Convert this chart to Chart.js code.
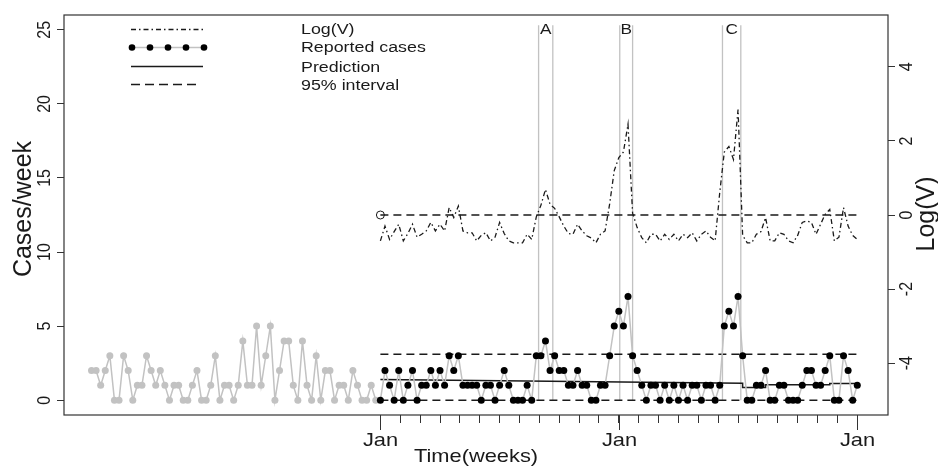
<!DOCTYPE html>
<html>
<head>
<meta charset="utf-8">
<script src="https://cdn.jsdelivr.net/npm/chart.js@4.4.1/dist/chart.umd.min.js"></script>
<style>
  html, body { margin: 0; padding: 0; background: #fff; }
  canvas { display: block; }
</style>
</head>
<body>
<canvas id="myChart" width="938" height="467"></canvas>
<script>
// weeks are counted from the first "Jan" tick (week 0)
const pastStart = -63;
const pastCases = [2,2,1,2,3,0,0,3,2,0, 1,1,3,2,1,2,1,0,1,1, 0,0,1,2,0,0,1,3,0,1, 1,
                   0,1,4,1,1,5,1,3,5,0, 2,4,4,1,0,4,1,0,3,0, 2,2,0,1,1,0,2,1,0,0, 1,0];
const reportedCases = [0,2,1,0,2,0,1,2,0,1, 1,2,1,2,1,3,2,3,1,1, 1,1,0,1,1,0,1,2,1,0,
                       0,0,1,0,3,3,4,2,3,2, 2,1,1,2,1,1,0,0,1,1, 3,5,6,5,7,3,2,1,0,1,
                       1,0,1,0,1,0,1,0,1,1, 0,1,1,0,1,5,6,5,7,3, 0,0,1,1,2,0,0,1,1,0,
                       0,0,1,2,2,1,1,2,3,0, 0,3,2,0,1];
const logV = [-0.70,-0.30,-0.66,-0.45,-0.25,-0.70,-0.50,-0.25,-0.60,-0.52,
              -0.43,-0.20,-0.43,-0.25,-0.43, 0.20,-0.07, 0.24,-0.43,-0.48,
              -0.48,-0.70,-0.55,-0.48,-0.70,-0.60,-0.20,-0.50,-0.70,-0.75,
              -0.75,-0.75,-0.52,-0.66,-0.05, 0.26, 0.69, 0.29, 0.18,-0.05,
              -0.30,-0.50,-0.52,-0.25,-0.43,-0.56,-0.62,-0.75,-0.52,-0.43,
               0.30, 1.20, 1.55, 1.70, 2.45, 0.05,-0.34,-0.61,-0.75,-0.52,
              -0.52,-0.70,-0.52,-0.66,-0.52,-0.70,-0.52,-0.61,-0.48,-0.70,
              -0.52,-0.43,-0.60,-0.70, 0.60, 1.70, 1.85, 1.50, 2.85,-0.55,
              -0.75,-0.75,-0.52,-0.45,-0.07,-0.70,-0.70,-0.48,-0.52,-0.70,
              -0.75,-0.55,-0.20,-0.16,-0.20,-0.52,-0.25, 0.02, 0.15,-0.70,
              -0.60, 0.20,-0.30,-0.55,-0.66];
const predWeeks  = [0,    79,   79,   84,   84,   98,   98,   104];
const predValues = [1.40, 1.15, 0.85, 0.85, 1.05, 1.05, 1.12, 1.12];
const upperLimit = 3.1;
const lowerLimit = 0;
const logVThreshold = 0;
const windowNames = ['A', 'B', 'C'];
const windowStart = [34.5, 52.2, 74.6];
const windowEnd   = [37.6, 55.0, 78.6];
const windowTop = 25.3;
const janWeeks = [0, 52, 104];
const xTickLabels = ['Jan', 'Jan', 'Jan'];
const leftTicks = [0, 5, 10, 15, 20, 25];
const rightTicks = [-4, -2, 0, 2, 4];

const INK = '#1a1a1a';
const GREY = '#c2c2c2';

function txt(ctx, s, x, y, size, rot, align, stretch) {
  ctx.save();
  ctx.translate(x, y);
  ctx.scale(stretch || 1.15, 1);
  if (rot) ctx.rotate(-Math.PI / 2);
  ctx.font = size + 'px "Liberation Sans", Arial, sans-serif';
  ctx.fillStyle = INK;
  ctx.textAlign = align || 'center';
  ctx.textBaseline = 'middle';
  ctx.fillText(s, 0, 0);
  ctx.restore();
}

// month ticks between the Jan ticks
const monthTicks = [];
for (let k = 0; k < janWeeks.length - 1; k++) {
  for (let m = 0; m < 12; m++) monthTicks.push(janWeeks[k] + (janWeeks[k + 1] - janWeeks[k]) * m / 12);
}
monthTicks.push(janWeeks[janWeeks.length - 1]);

const windowData = (i) => [
  {x: windowStart[i], y: 0}, {x: windowStart[i], y: windowTop},
  {x: windowStart[i], y: null},
  {x: windowEnd[i], y: windowTop}, {x: windowEnd[i], y: 0}
];

const decor = {
  id: 'decor',
  afterDraw(chart) {
    const ctx = chart.ctx;
    const a = chart.chartArea;
    const sx = chart.scales.x, sy = chart.scales.y, sy2 = chart.scales.y2;
    ctx.save();
    // box
    ctx.strokeStyle = '#333';
    ctx.lineWidth = 1.2;
    ctx.strokeRect(a.left, a.top, a.right - a.left, a.bottom - a.top);
    // longer Jan ticks + labels
    ctx.lineWidth = 1;
    janWeeks.forEach((w, i) => {
      const px = Math.round(sx.getPixelForValue(w)) + 0.5;
      ctx.beginPath(); ctx.moveTo(px, a.bottom); ctx.lineTo(px, a.bottom + 15); ctx.stroke();
      txt(ctx, xTickLabels[i], px, a.bottom + 26, 19);
    });
    txt(ctx, 'Time(weeks)', (a.left + a.right) / 2, 457, 19);
    // y tick labels, rotated
    leftTicks.forEach(v => txt(ctx, String(v), 45, sy.getPixelForValue(v), 16, true));
    rightTicks.forEach(v => txt(ctx, String(v), 907, sy2.getPixelForValue(v), 16, true));
    txt(ctx, 'Cases/week', 24, 209, 25, true, 'center', 1);
    txt(ctx, 'Log(V)', 927, 214, 25, true, 'center', 1);
    // window labels
    windowNames.forEach((n, i) => {
      const cx = (sx.getPixelForValue(windowStart[i]) + sx.getPixelForValue(windowEnd[i])) / 2;
      txt(ctx, n, cx, 30, 15);
    });
    // legend
    const lx0 = 131, lx1 = 203;
    ctx.strokeStyle = INK;
    ctx.lineWidth = 1.3;
    ctx.setLineDash([5, 3, 1.5, 3]);
    ctx.beginPath(); ctx.moveTo(lx0, 29.5); ctx.lineTo(lx1, 29.5); ctx.stroke();
    ctx.setLineDash([]);
    ctx.strokeStyle = GREY;
    ctx.lineWidth = 1.5;
    ctx.beginPath(); ctx.moveTo(lx0, 47.5); ctx.lineTo(lx1, 47.5); ctx.stroke();
    ctx.fillStyle = '#000';
    for (let k = 0; k < 5; k++) {
      ctx.beginPath(); ctx.arc(lx0 + 1 + k * 18, 47.5, 3.3, 0, Math.PI * 2); ctx.fill();
    }
    ctx.strokeStyle = INK;
    ctx.lineWidth = 1.5;
    ctx.beginPath(); ctx.moveTo(lx0, 66.5); ctx.lineTo(lx1, 66.5); ctx.stroke();
    ctx.setLineDash([9, 5]);
    ctx.beginPath(); ctx.moveTo(lx0, 84.5); ctx.lineTo(199, 84.5); ctx.stroke();
    ctx.setLineDash([]);
    txt(ctx, 'Log(V)', 301, 30, 15.5, false, 'left');
    txt(ctx, 'Reported cases', 301, 48, 15.5, false, 'left');
    txt(ctx, 'Prediction', 301, 68, 15.5, false, 'left');
    txt(ctx, '95% interval', 301, 86, 15.5, false, 'left');
    ctx.restore();
  }
};

const line = (data, extra) => Object.assign({
  data, yAxisID: 'y', borderColor: INK, borderWidth: 1.5, pointRadius: 0,
  fill: false, tension: 0, spanGaps: false
}, extra);

new Chart(document.getElementById('myChart'), {
  type: 'line',
  data: {
    datasets: [
      line(reportedCases.map((v, i) => ({x: i, y: v})), {
        borderColor: GREY, pointRadius: 3.5, pointBackgroundColor: '#000',
        pointBorderWidth: 0, order: 0 }),
      line(pastCases.map((v, i) => ({x: pastStart + i, y: v})), {
        borderColor: GREY, pointRadius: 3.5, pointBackgroundColor: GREY,
        pointBorderWidth: 0, order: 1 }),
      line(predWeeks.map((w, i) => ({x: w, y: predValues[i]})), { order: 2 }),
      line([{x: janWeeks[0], y: upperLimit}, {x: janWeeks[2], y: upperLimit}], {
        borderDash: [8, 5], borderWidth: 1.6, order: 3 }),
      line([{x: janWeeks[0], y: lowerLimit}, {x: janWeeks[2], y: lowerLimit}], {
        borderDash: [8, 5], borderWidth: 1.6, order: 3 }),
      line(logV.map((v, i) => ({x: i, y: v})), {
        yAxisID: 'y2', borderDash: [5, 3, 1.5, 3], borderWidth: 1.3, order: 4 }),
      line([{x: janWeeks[0], y: logVThreshold}, {x: janWeeks[2], y: logVThreshold}], {
        yAxisID: 'y2', borderDash: [8, 5], borderWidth: 1.6, order: 4 }),
      line([{x: janWeeks[0], y: logVThreshold}], {
        yAxisID: 'y2', pointRadius: 4, pointBorderWidth: 1, pointBorderColor: INK,
        pointBackgroundColor: 'rgba(0,0,0,0)', order: 4 }),
      line(windowData(0), { borderColor: GREY, borderWidth: 1.3, order: 9 }),
      line(windowData(1), { borderColor: GREY, borderWidth: 1.3, order: 9 }),
      line(windowData(2), { borderColor: GREY, borderWidth: 1.3, order: 9 })
    ]
  },
  options: {
    responsive: false,
    animation: false,
    layout: { padding: { top: 15, left: 0, right: 0, bottom: 0 } },
    plugins: { legend: { display: false }, tooltip: { enabled: false } },
    scales: {
      x: {
        type: 'linear', min: -69, max: 110.7, position: 'bottom',
        afterBuildTicks: s => { s.ticks = monthTicks.map(v => ({ value: v })); },
        afterFit: s => { s.height = 52; },
        ticks: { display: false, autoSkip: false },
        grid: { drawOnChartArea: false, tickLength: 8, tickColor: '#333', color: '#333' },
        border: { display: false }
      },
      y: {
        type: 'linear', min: -1, max: 26, position: 'left',
        afterBuildTicks: s => { s.ticks = leftTicks.map(v => ({ value: v })); },
        afterFit: s => { s.width = 64; },
        ticks: { display: false },
        grid: { drawOnChartArea: false, tickLength: 7, tickColor: '#333', color: '#333' },
        border: { display: false }
      },
      y2: {
        type: 'linear', min: -5.4, max: 5.4, position: 'right',
        afterBuildTicks: s => { s.ticks = rightTicks.map(v => ({ value: v })); },
        afterFit: s => { s.width = 50; },
        ticks: { display: false },
        grid: { drawOnChartArea: false, tickLength: 7, tickColor: '#333', color: '#333' },
        border: { display: false }
      }
    }
  },
  plugins: [decor]
});
</script>
</body>
</html>
